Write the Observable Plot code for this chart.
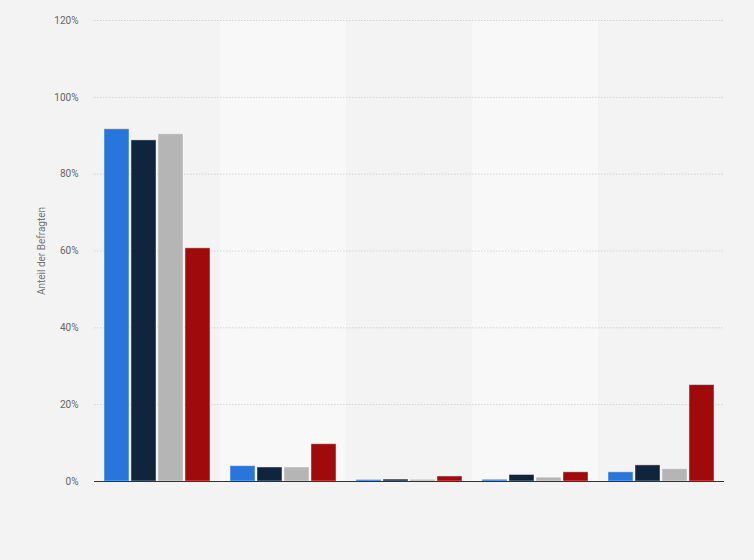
<!DOCTYPE html>
<html>
<head>
<meta charset="utf-8">
<script src="https://cdn.jsdelivr.net/npm/d3@7"></script>
<script src="https://cdn.jsdelivr.net/npm/@observablehq/plot@0.6"></script>
<style>
  html, body { margin: 0; padding: 0; background: #f3f3f3; }
  #chart { width: 754px; height: 560px; }
</style>
</head>
<body>
<div id="chart"></div>
<script>
const groups = ["Gruppe 1", "Gruppe 2", "Gruppe 3", "Gruppe 4", "Gruppe 5"];
const series = ["Serie 1", "Serie 2", "Serie 3", "Serie 4"];
const colors = ["#2876dc", "#0f253d", "#b5b5b5", "#a10a0a"];
const serie1 = [91.7, 4.0, 0.4, 0.45, 2.4];
const serie2 = [88.8, 3.65, 0.5, 1.7, 4.2];
const serie3 = [90.4, 3.65, 0.45, 1.0, 3.2];
const serie4 = [60.7, 9.7, 1.3, 2.4, 25.1];
const yTicks = [0, 20, 40, 60, 80, 100, 120];
const yLabel = "Anteil der Befragten";

const valueLists = [serie1, serie2, serie3, serie4];
const data = [];
groups.forEach((g, gi) => {
  series.forEach((s, si) => {
    data.push({group: g, series: s, value: valueLists[si][gi]});
  });
});
const bands = groups.map((g, i) => ({group: g, alt: i % 2 === 1}));

const chart = Plot.plot({
  width: 754,
  height: 560,
  marginTop: 20,
  marginBottom: 79,
  marginLeft: 93,
  marginRight: 29,
  style: {background: "#f3f3f3", fontFamily: "Roboto, 'Liberation Sans', Arial, sans-serif", fontSize: "10px", color: "#666"},
  fx: {domain: groups, padding: 0, axis: null},
  x: {domain: series, paddingInner: 0.08, paddingOuter: 0.355, axis: null},
  y: {domain: [0, 120], ticks: yTicks, tickFormat: d => d + "%", tickSize: 0, tickPadding: 16, label: null},
  color: {domain: series, range: colors},
  marks: [
    Plot.barY(bands, {fx: "group", y1: 0, y2: 120, fill: d => d.alt ? "#f8f8f8" : "#f3f3f3"}),
    Plot.ruleY(yTicks.filter(t => t > 0), {stroke: "#d4d4d4", strokeDasharray: "1.5,1.5", strokeWidth: 1}),
    Plot.barY(data, {fx: "group", x: "series", y: "value", fill: "series", stroke: "white", strokeOpacity: 0.45, strokeWidth: 1}),
    Plot.ruleY([0], {stroke: "#333", strokeWidth: 1.2}),
    Plot.text([{g: groups[0], t: yLabel}], {fx: "g", text: "t", frameAnchor: "left", rotate: -90, dx: -53, fill: "#777", fontSize: 10, textAnchor: "middle"})
  ]
});
document.getElementById("chart").appendChild(chart);
</script>
</body>
</html>
